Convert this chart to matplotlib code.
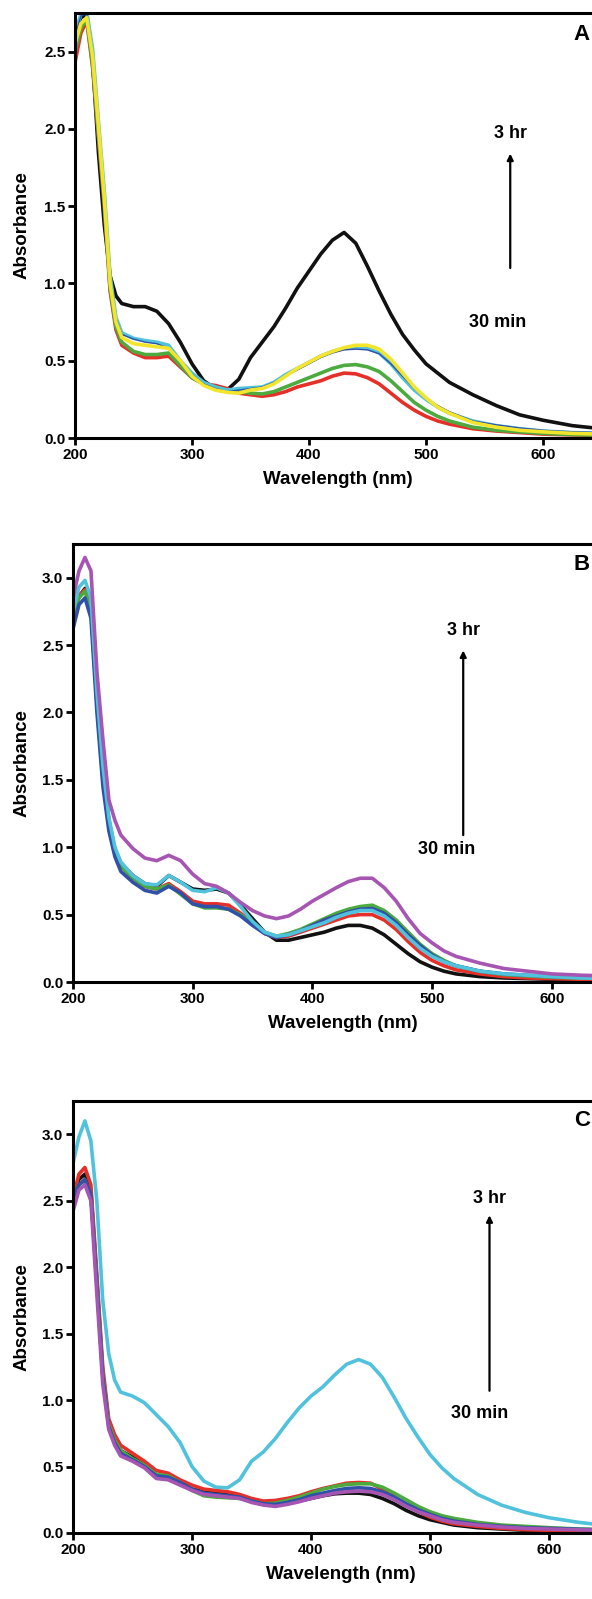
import numpy as np
import matplotlib
matplotlib.use("Agg")
import matplotlib.pyplot as plt

plt.rcParams['font.family'] = ['Liberation Sans', 'DejaVu Sans']
plt.rcParams['font.weight'] = 'bold'

# wavelength grid (nm) shared by all spectra
wl = [200, 205, 210, 215, 220, 225, 230, 235, 240, 250, 260, 270, 280, 290, 300,
      310, 320, 330, 340, 350, 360, 370, 380, 390, 400, 410, 420, 430, 440, 450,
      460, 470, 480, 490, 500, 510, 520, 540, 560, 580, 600, 625, 650]

# ---- panel A ----
a_black = [2.62, 2.72, 2.74, 2.45, 1.85, 1.38, 1.05, 0.92, 0.87, 0.85, 0.85, 0.82, 0.74, 0.62, 0.48,
           0.37, 0.32, 0.31, 0.38, 0.52, 0.62, 0.72, 0.84, 0.97, 1.08, 1.19, 1.28, 1.33, 1.26, 1.11,
           0.95, 0.80, 0.67, 0.57, 0.48, 0.42, 0.36, 0.28, 0.21, 0.15, 0.115, 0.08, 0.06]
a_red = [2.43, 2.62, 2.70, 2.40, 1.95, 1.50, 0.95, 0.70, 0.60, 0.55, 0.52, 0.52, 0.53, 0.46, 0.39,
         0.35, 0.34, 0.32, 0.29, 0.28, 0.27, 0.28, 0.30, 0.33, 0.35, 0.37, 0.40, 0.42, 0.415, 0.39,
         0.35, 0.29, 0.23, 0.18, 0.14, 0.11, 0.09, 0.06, 0.045, 0.035, 0.025, 0.02, 0.015]
a_green = [2.50, 2.65, 2.71, 2.42, 1.97, 1.52, 0.97, 0.72, 0.62, 0.56, 0.54, 0.54, 0.55, 0.47, 0.39,
           0.35, 0.33, 0.31, 0.30, 0.29, 0.285, 0.30, 0.33, 0.36, 0.39, 0.42, 0.45, 0.47, 0.475, 0.46,
           0.43, 0.37, 0.30, 0.23, 0.18, 0.14, 0.11, 0.07, 0.05, 0.04, 0.03, 0.022, 0.018]
a_cyan = [2.62, 2.74, 2.76, 2.52, 2.05, 1.60, 1.05, 0.78, 0.68, 0.645, 0.63, 0.62, 0.60, 0.50, 0.42,
          0.36, 0.33, 0.31, 0.32, 0.325, 0.33, 0.36, 0.41, 0.45, 0.49, 0.53, 0.56, 0.58, 0.585, 0.58,
          0.55, 0.48, 0.39, 0.31, 0.25, 0.20, 0.16, 0.11, 0.08, 0.06, 0.045, 0.035, 0.03]
a_blue = [2.60, 2.73, 2.75, 2.50, 2.03, 1.58, 1.03, 0.77, 0.67, 0.64, 0.62, 0.61, 0.58, 0.49, 0.41,
          0.35, 0.32, 0.30, 0.31, 0.32, 0.33, 0.36, 0.40, 0.44, 0.48, 0.52, 0.55, 0.57, 0.575, 0.57,
          0.545, 0.48, 0.40, 0.32, 0.26, 0.21, 0.17, 0.11, 0.085, 0.065, 0.05, 0.04, 0.035]
a_yellow = [2.55, 2.68, 2.72, 2.47, 2.02, 1.56, 1.00, 0.75, 0.65, 0.61, 0.60, 0.59, 0.58, 0.50, 0.40,
            0.34, 0.31, 0.295, 0.29, 0.31, 0.32, 0.35, 0.40, 0.45, 0.49, 0.53, 0.56, 0.585, 0.60, 0.60,
            0.575, 0.51, 0.42, 0.33, 0.26, 0.20, 0.16, 0.10, 0.07, 0.05, 0.04, 0.03, 0.025]

# ---- panel B ----
b_black = [2.70, 2.86, 2.92, 2.80, 2.10, 1.55, 1.20, 0.98, 0.88, 0.79, 0.73, 0.71, 0.79, 0.74, 0.69,
           0.68, 0.69, 0.66, 0.57, 0.47, 0.37, 0.31, 0.31, 0.33, 0.35, 0.37, 0.40, 0.42, 0.42, 0.40,
           0.35, 0.28, 0.21, 0.15, 0.11, 0.08, 0.06, 0.04, 0.03, 0.025, 0.02, 0.015, 0.01]
b_red = [2.70, 2.87, 2.91, 2.78, 2.08, 1.52, 1.17, 0.96, 0.86, 0.77, 0.71, 0.69, 0.73, 0.67, 0.60,
         0.58, 0.58, 0.57, 0.51, 0.44, 0.36, 0.33, 0.34, 0.37, 0.40, 0.43, 0.46, 0.49, 0.50, 0.50,
         0.46, 0.39, 0.30, 0.22, 0.16, 0.12, 0.09, 0.06, 0.04, 0.03, 0.025, 0.02, 0.015]
b_green = [2.70, 2.85, 2.90, 2.76, 2.06, 1.50, 1.15, 0.95, 0.86, 0.77, 0.71, 0.69, 0.72, 0.65, 0.58,
           0.55, 0.55, 0.54, 0.50, 0.44, 0.37, 0.34, 0.36, 0.39, 0.43, 0.47, 0.51, 0.54, 0.56, 0.57,
           0.53, 0.46, 0.37, 0.28, 0.21, 0.16, 0.12, 0.08, 0.055, 0.045, 0.035, 0.03, 0.025]
b_blue = [2.62, 2.80, 2.85, 2.70, 2.00, 1.45, 1.12, 0.93, 0.82, 0.74, 0.68, 0.66, 0.71, 0.66, 0.58,
          0.56, 0.56, 0.54, 0.49, 0.42, 0.36, 0.33, 0.35, 0.38, 0.42, 0.46, 0.49, 0.52, 0.54, 0.545,
          0.51, 0.44, 0.35, 0.27, 0.20, 0.15, 0.12, 0.08, 0.06, 0.05, 0.04, 0.035, 0.03]
b_cyan = [2.75, 2.93, 2.98, 2.85, 2.15, 1.60, 1.22, 1.00, 0.89, 0.79, 0.73, 0.72, 0.79, 0.74, 0.68,
          0.67, 0.70, 0.66, 0.56, 0.45, 0.37, 0.34, 0.35, 0.38, 0.41, 0.44, 0.48, 0.51, 0.53, 0.53,
          0.49, 0.42, 0.33, 0.25, 0.19, 0.15, 0.12, 0.08, 0.06, 0.05, 0.04, 0.03, 0.025]
b_purple = [2.85, 3.05, 3.15, 3.05, 2.30, 1.80, 1.35, 1.20, 1.09, 0.99, 0.92, 0.90, 0.94, 0.90, 0.80,
            0.73, 0.71, 0.66, 0.59, 0.53, 0.49, 0.47, 0.49, 0.54, 0.60, 0.65, 0.70, 0.745, 0.77, 0.77,
            0.70, 0.60, 0.47, 0.36, 0.29, 0.23, 0.19, 0.14, 0.10, 0.08, 0.06, 0.05, 0.045]

# ---- panel C ----
c_black = [2.55, 2.66, 2.70, 2.58, 1.90, 1.20, 0.82, 0.70, 0.62, 0.57, 0.51, 0.44, 0.42, 0.38, 0.33,
           0.31, 0.30, 0.29, 0.27, 0.24, 0.22, 0.21, 0.22, 0.24, 0.26, 0.28, 0.295, 0.30, 0.30, 0.29,
           0.26, 0.22, 0.17, 0.13, 0.10, 0.08, 0.06, 0.04, 0.03, 0.02, 0.015, 0.012, 0.01]
c_red = [2.52, 2.70, 2.75, 2.62, 1.95, 1.25, 0.86, 0.74, 0.66, 0.60, 0.54, 0.47, 0.45, 0.40, 0.36,
         0.33, 0.32, 0.31, 0.29, 0.26, 0.24, 0.245, 0.26, 0.28, 0.31, 0.335, 0.355, 0.375, 0.38, 0.375,
         0.33, 0.27, 0.21, 0.16, 0.12, 0.09, 0.07, 0.05, 0.035, 0.025, 0.02, 0.015, 0.012]
c_green = [2.50, 2.62, 2.65, 2.55, 1.90, 1.20, 0.82, 0.70, 0.62, 0.56, 0.51, 0.44, 0.43, 0.38, 0.32,
           0.28, 0.27, 0.265, 0.26, 0.24, 0.22, 0.225, 0.245, 0.27, 0.30, 0.33, 0.35, 0.365, 0.37, 0.37,
           0.345, 0.30, 0.25, 0.20, 0.16, 0.13, 0.11, 0.08, 0.06, 0.05, 0.04, 0.03, 0.025]
c_blue = [2.50, 2.62, 2.66, 2.55, 1.88, 1.18, 0.80, 0.68, 0.60, 0.55, 0.50, 0.43, 0.42, 0.38, 0.33,
          0.30, 0.29, 0.28, 0.27, 0.24, 0.22, 0.215, 0.23, 0.25, 0.28, 0.30, 0.32, 0.335, 0.34, 0.335,
          0.31, 0.27, 0.22, 0.175, 0.14, 0.11, 0.09, 0.065, 0.05, 0.04, 0.035, 0.028, 0.022]
c_cyan = [2.78, 2.98, 3.10, 2.95, 2.50, 1.75, 1.35, 1.15, 1.06, 1.03, 0.98, 0.89, 0.80, 0.68, 0.50,
          0.39, 0.345, 0.34, 0.40, 0.54, 0.61, 0.71, 0.83, 0.94, 1.03, 1.10, 1.19, 1.27, 1.305, 1.27,
          1.17, 1.02, 0.86, 0.72, 0.59, 0.49, 0.41, 0.29, 0.21, 0.155, 0.115, 0.08, 0.055]
c_purple = [2.42, 2.58, 2.62, 2.50, 1.80, 1.12, 0.78, 0.66, 0.58, 0.54, 0.49, 0.41, 0.40, 0.36, 0.32,
            0.29, 0.28, 0.27, 0.26, 0.23, 0.21, 0.20, 0.215, 0.235, 0.26, 0.28, 0.30, 0.31, 0.315, 0.31,
            0.29, 0.25, 0.20, 0.16, 0.13, 0.10, 0.08, 0.06, 0.045, 0.035, 0.03, 0.024, 0.02]

BLACK = '#111111'
RED = '#e5302a'
GREEN = '#4caa3e'
BLUE = '#3150a8'
CYAN = '#50c2dc'
YELLOW = '#f2e52c'
PURPLE = '#a656b2'

W, H = 592, 1599
fig = plt.figure(figsize=(W / 100, H / 100), dpi=100)

panels = [
    # left/top/bottom in px, px per 100 nm, y max, letter,
    # arrow = (x, head y, tail y, "3 hr" y, "30 min" x, "30 min" y)
    dict(left=75, top=13, bottom=438, scale=117, ymax=2.75, letter='A',
         curves=[(a_black, BLACK, 2.6), (a_red, RED, 2.6), (a_green, GREEN, 2.6),
                 (a_cyan, CYAN, 2.6), (a_blue, BLUE, 1.0), (a_yellow, YELLOW, 2.6)],
         arrow=(572, 1.84, 1.10, 1.97, 561, 0.75), letter_y=2.61),
    dict(left=73, top=544, bottom=982, scale=119.7, ymax=3.25, letter='B',
         curves=[(b_black, BLACK, 2.6), (b_red, RED, 2.6), (b_green, GREEN, 2.6),
                 (b_blue, BLUE, 2.6), (b_cyan, CYAN, 2.6), (b_purple, PURPLE, 2.6)],
         arrow=(526, 2.46, 1.09, 2.61, 512, 0.98), letter_y=3.10),
    dict(left=73, top=1101, bottom=1533, scale=119, ymax=3.25, letter='C',
         curves=[(c_black, BLACK, 2.6), (c_red, RED, 2.6), (c_green, GREEN, 2.6),
                 (c_blue, BLUE, 2.6), (c_purple, PURPLE, 2.6), (c_cyan, CYAN, 2.6)],
         arrow=(550, 2.39, 1.07, 2.52, 542, 0.90), letter_y=3.10),
]

for p in panels:
    width = 450 * p['scale'] / 100
    ax = fig.add_axes([p['left'] / W, 1 - p['bottom'] / H, width / W,
                       (p['bottom'] - p['top']) / H])
    for vals, col, lw in p['curves']:
        ax.plot(wl, vals, color=col, lw=lw, solid_capstyle='round', solid_joinstyle='round')
    ax.set_xlim(200, 650)
    ax.set_ylim(0, p['ymax'])
    ax.set_xticks([200, 300, 400, 500, 600])
    yt = [0.0, 0.5, 1.0, 1.5, 2.0, 2.5] + ([3.0] if p['ymax'] > 3 else [])
    ax.set_yticks(yt)
    ax.set_yticklabels(['%.1f' % t for t in yt])
    for s in ax.spines.values():
        s.set_linewidth(2.2)
    ax.spines['right'].set_visible(False)
    ax.tick_params(direction='out', length=5, width=2, labelsize=11, pad=2)
    ax.set_xlabel('Wavelength (nm)', fontsize=13.5, fontweight='bold', labelpad=7)
    ax.set_ylabel('Absorbance', fontsize=13.5, fontweight='bold')
    ax.yaxis.set_label_coords((31 - p['left']) / width, 0.5)
    x, ytop, ybot, yhr, xmin_, ymin_ = p['arrow']
    ax.annotate('', xy=(x, ytop), xytext=(x, ybot),
                arrowprops=dict(arrowstyle='-|>', color='black', lw=1.6, mutation_scale=9,
                                shrinkA=0, shrinkB=0))
    ax.text(x, yhr, '3 hr', ha='center', va='center', fontsize=13, fontweight='bold')
    ax.text(xmin_, ymin_, '30 min', ha='center', va='center', fontsize=13, fontweight='bold')
    letter_x = (582 - p['left']) / (p['scale'] / 100) + 200
    ax.text(letter_x, p['letter_y'], p['letter'], ha='center', va='center',
            fontsize=16, fontweight='bold')

fig.savefig('out.png', dpi=100)
